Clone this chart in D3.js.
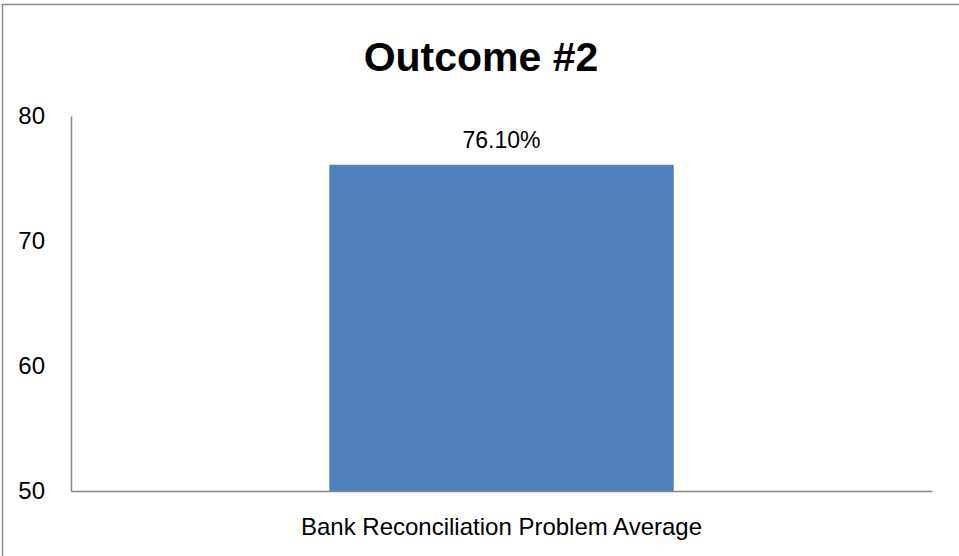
<!DOCTYPE html>
<html>
<head>
<meta charset="utf-8">
<script src="https://cdn.jsdelivr.net/npm/d3@7"></script>
<style>
  body { margin: 0; background: #fff; }
  svg { display: block; font-family: "Liberation Sans", Arial, sans-serif; }
</style>
</head>
<body>
<svg id="chart"></svg>
<script>
// data
var categories = ["Bank Reconciliation Problem Average"];
var values = [76.1];
var valueLabels = ["76.10%"];
var yTicks = [50, 60, 70, 80];
var chartTitle = "Outcome #2";

var width = 959, height = 556;
var margin = {top: 116, right: 27, bottom: 65, left: 71};

var svg = d3.select("#chart")
  .attr("width", width)
  .attr("height", height);

// chart frame (right and bottom edges fall outside the picture)
svg.append("rect")
  .attr("x", 2.5)
  .attr("y", 4.5)
  .attr("width", width + 20)
  .attr("height", height + 20)
  .attr("fill", "none")
  .attr("stroke", "#8c8c8c")
  .attr("stroke-width", 1.5);

// title
svg.append("text")
  .attr("x", 481)
  .attr("y", 71)
  .attr("text-anchor", "middle")
  .attr("font-size", 41)
  .attr("font-weight", "bold")
  .attr("fill", "#000")
  .text(chartTitle);

var x = d3.scaleBand()
  .domain(categories)
  .range([margin.left, width - margin.right])
  .paddingInner(0.6)
  .paddingOuter(0.3);

var y = d3.scaleLinear()
  .domain([50, 80])
  .range([height - margin.bottom, margin.top]);

// bars
svg.append("g")
  .selectAll("rect")
  .data(values)
  .enter().append("rect")
  .attr("x", function(d, i) { return x(categories[i]); })
  .attr("y", function(d) { return y(d); })
  .attr("width", x.bandwidth())
  .attr("height", function(d) { return y(50) - y(d); })
  .attr("fill", "#4F81BD");

// value labels
svg.append("g")
  .selectAll("text")
  .data(values)
  .enter().append("text")
  .attr("x", function(d, i) { return x(categories[i]) + x.bandwidth() / 2; })
  .attr("y", function(d) { return y(d) - 17; })
  .attr("text-anchor", "middle")
  .attr("font-size", 23)
  .attr("fill", "#000")
  .text(function(d, i) { return valueLabels[i]; });

// y axis
var yAxis = svg.append("g")
  .attr("transform", "translate(" + margin.left + ",0)")
  .call(d3.axisLeft(y).tickValues(yTicks).tickSize(0).tickPadding(26));
yAxis.select(".domain").attr("stroke", "#868686").attr("stroke-width", 1.5);
yAxis.selectAll("text")
  .attr("font-size", 24)
  .attr("font-family", "Liberation Sans, Arial, sans-serif")
  .attr("fill", "#000");

// x axis
var xAxis = svg.append("g")
  .attr("transform", "translate(0," + (height - margin.bottom) + ")")
  .call(d3.axisBottom(x).tickSize(0).tickPadding(27));
xAxis.select(".domain").attr("stroke", "#868686").attr("stroke-width", 1.5);
xAxis.selectAll("text")
  .attr("font-size", 24)
  .attr("font-family", "Liberation Sans, Arial, sans-serif")
  .attr("fill", "#000");
</script>
</body>
</html>
